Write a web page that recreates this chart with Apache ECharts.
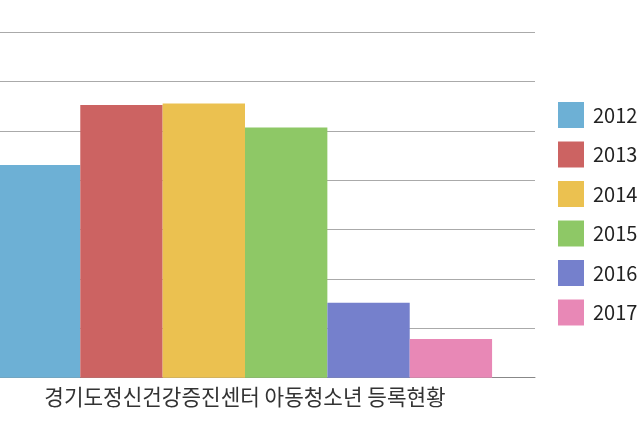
<!DOCTYPE html>
<html><head><meta charset="utf-8">
<script src="https://cdn.jsdelivr.net/npm/echarts@6/dist/echarts.min.js"></script>
<style>html,body{margin:0;padding:0;background:#fff;overflow:hidden;width:640px;height:427px;position:relative}#c{position:absolute;left:-45px;top:0;width:685px;height:427px}</style>
</head><body><div id="c"></div>
<script>
const categories = ['경기도정신건강증진센터 아동청소년 등록현황'];
const years = ['2012','2013','2014','2015','2016','2017'];
const values = [2153, 2760, 2777, 2534, 759, 392];
const colors = ['#6db0d5','#cc6362','#ebc150','#8ec866','#7580cc','#e888b6'];

const chart = echarts.init(document.getElementById('c'));
chart.setOption({
  animation: false,
  textStyle: { fontFamily: '"Noto Sans CJK KR", "Noto Sans", sans-serif' },
  grid: { left: 0, right: 105, top: 32, bottom: 49.3 },
  legend: {
    orient: 'vertical', left: 598, top: 97,
    itemWidth: 26, itemHeight: 26, itemGap: 13.5,
    icon: 'rect',
    textStyle: { fontSize: 20, color: '#222', padding: [0,0,0,4] },
    data: years
  },
  xAxis: {
    type: 'category', data: categories,
    axisLine: { lineStyle: { color: '#888' } },
    axisTick: { show: false },
    axisLabel: { fontSize: 21.3, color: '#333', margin: 9 }
  },
  yAxis: {
    type: 'value', min: 0, max: 3500, interval: 500,
    axisLabel: { show: false },
    axisLine: { show: false }, axisTick: { show: false },
    splitLine: { lineStyle: { color: '#aaa', width: 1 } }
  },
  series: years.map((y, i) => ({
    name: y, type: 'bar',
    data: [values[i]],
    barGap: '0%', barCategoryGap: '14.8%',
    itemStyle: { color: colors[i] }
  }))
});
</script></body></html>
